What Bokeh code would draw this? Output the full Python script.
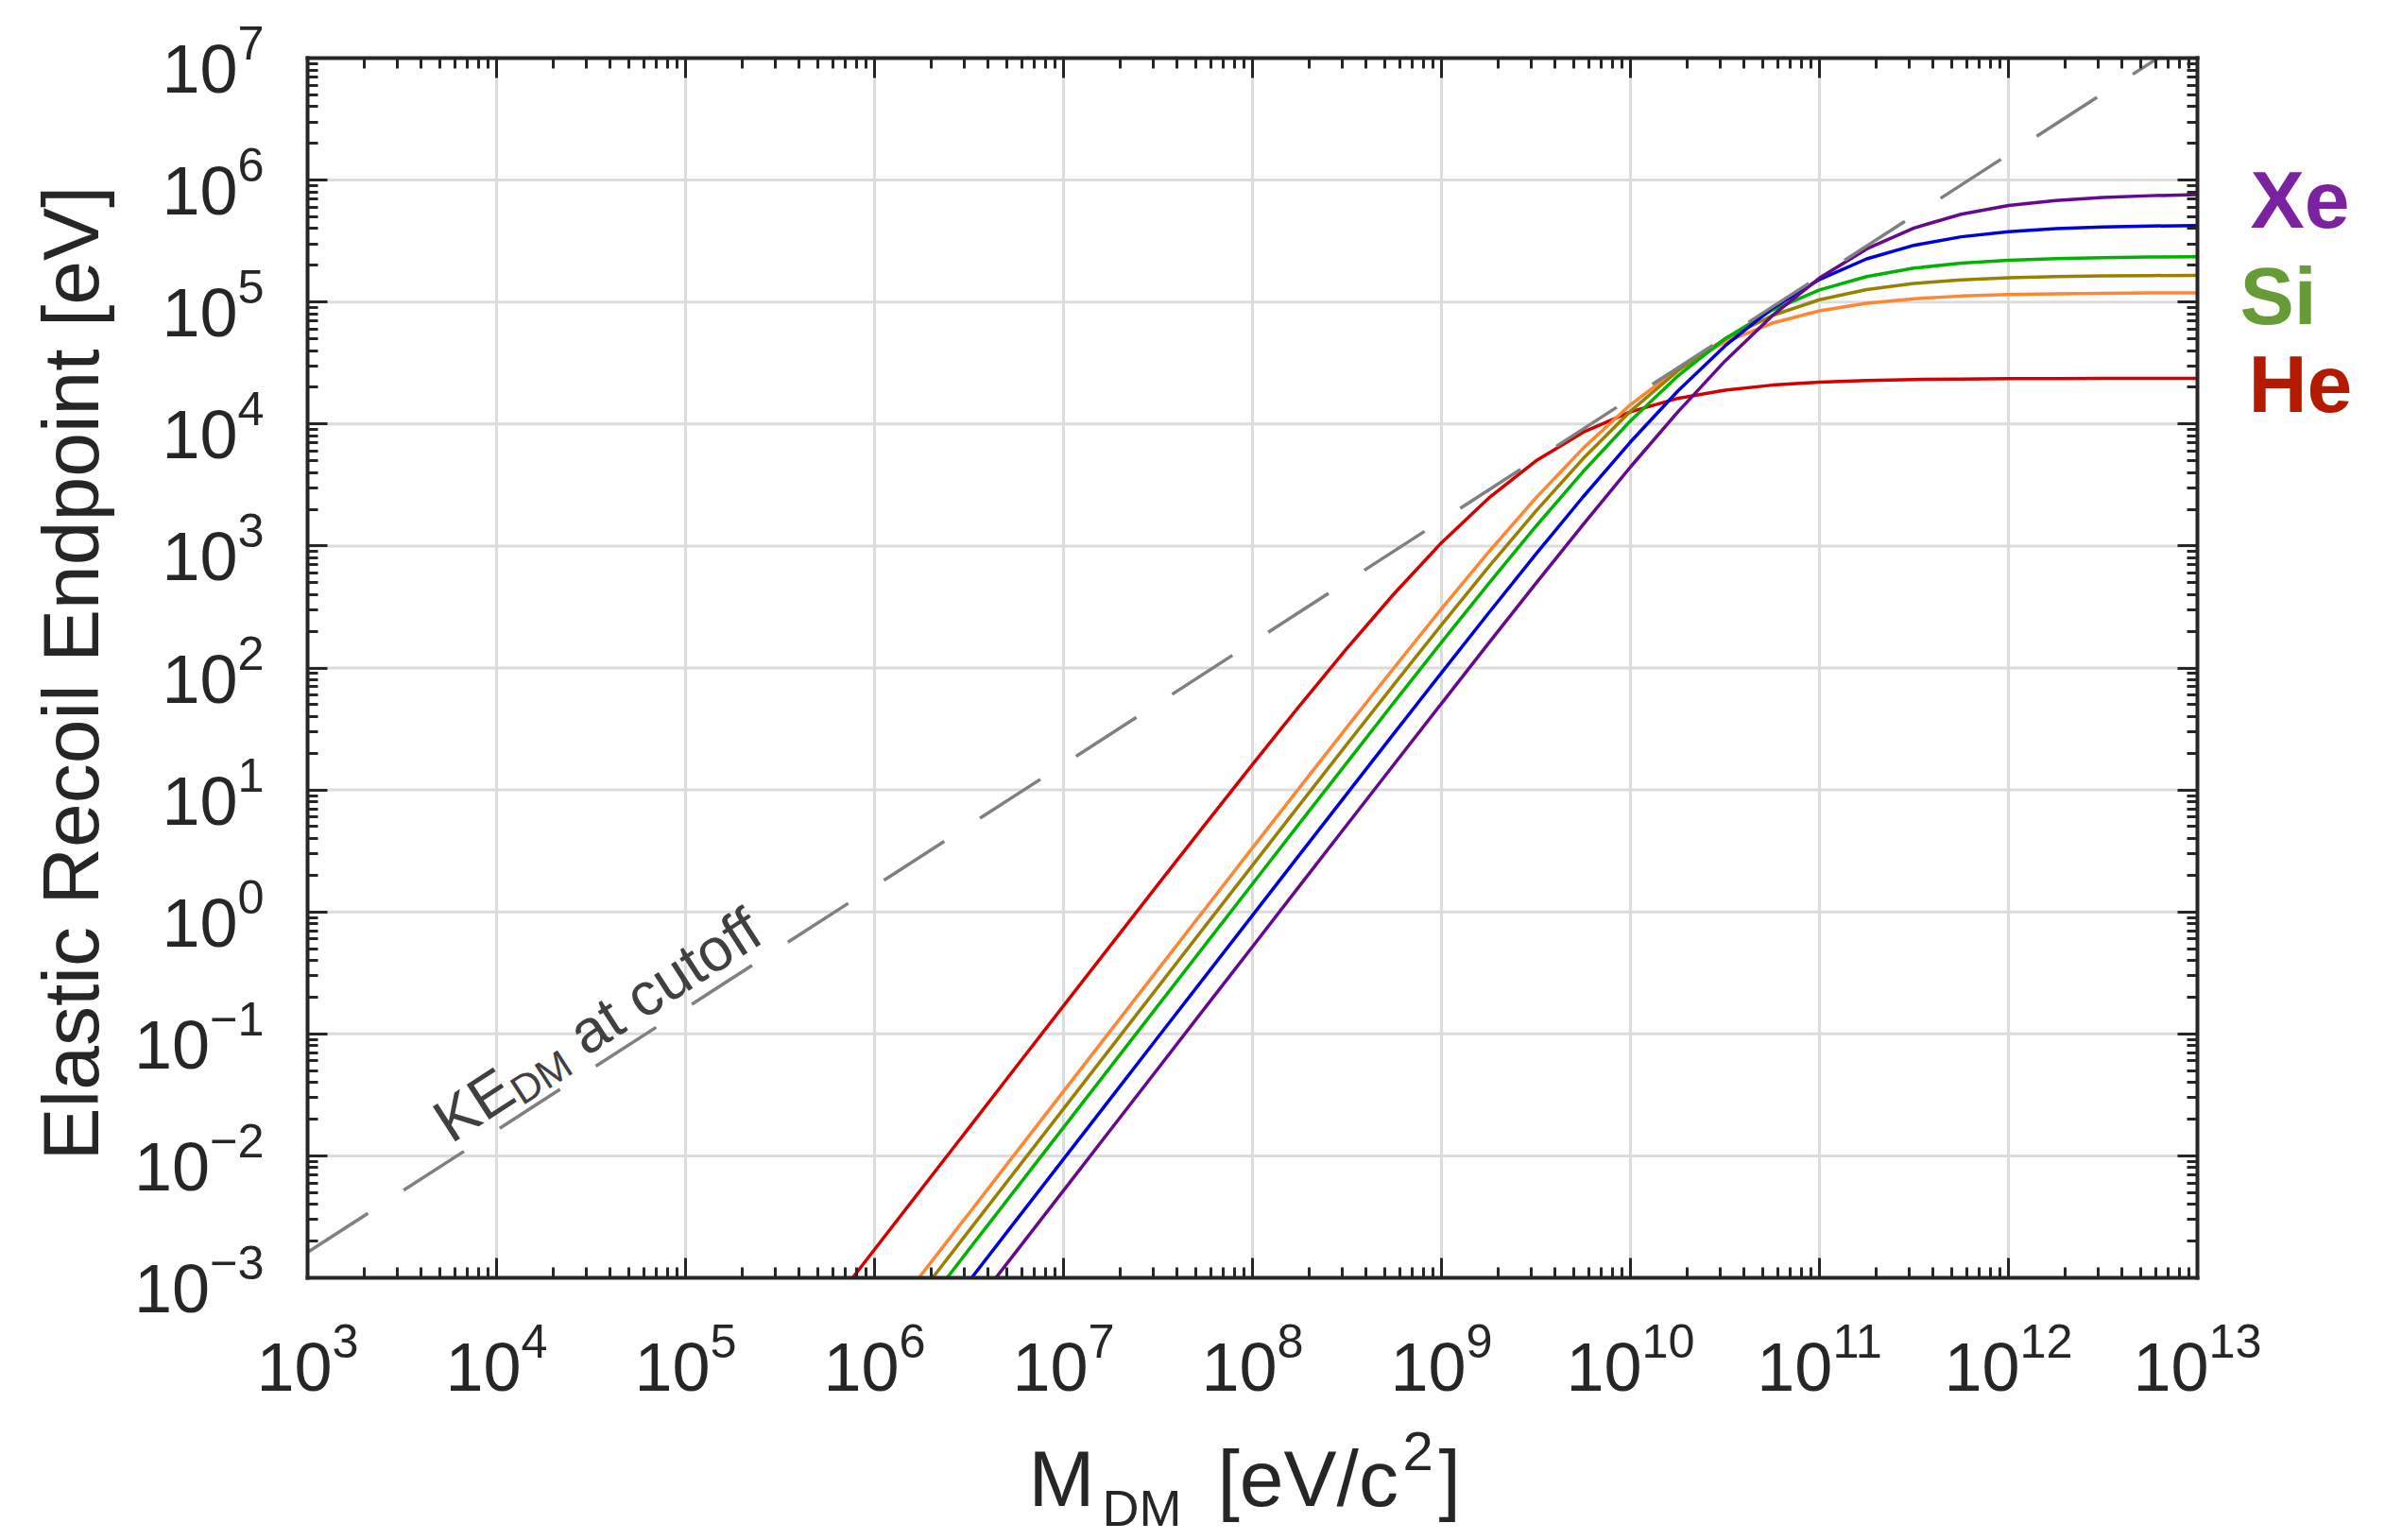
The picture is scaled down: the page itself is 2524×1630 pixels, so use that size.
import math
from bokeh.plotting import figure
from bokeh.models import (LogAxis, FixedTicker, Label, Range1d, Grid,
                          CustomJSTickFormatter, ColumnDataSource)
from bokeh.embed import file_html
from bokeh.resources import INLINE

# ---------------- data ----------------
# DM mass grid, log10(M_DM / eV)
mass_log10 = [5.75, 6.0, 6.25, 6.5, 6.75, 7.0, 7.25, 7.5, 7.75, 8.0, 8.25, 8.5,
              8.75, 9.0, 9.25, 9.5, 9.75, 10.0, 10.25, 10.5, 10.75, 11.0, 11.25,
              11.5, 11.75, 12.0, 12.25, 12.5, 12.75, 13.0]

# elastic recoil endpoint, log10(E / eV), one list per target curve
he_log10 = [-3.268, -2.768, -2.268, -1.769, -1.269, -0.770, -0.272, 0.225, 0.719,
            1.209, 1.692, 2.161, 2.610, 3.026, 3.393, 3.698, 3.933, 4.100, 4.210,
            4.278, 4.319, 4.343, 4.357, 4.365, 4.369, 4.372, 4.373, 4.374, 4.374, 4.375]
ne_log10 = [-3.970, -3.470, -2.970, -2.471, -1.971, -1.471, -0.971, -0.472, 0.027,
            0.525, 1.021, 1.515, 2.004, 2.485, 2.951, 3.395, 3.802, 4.159, 4.451,
            4.672, 4.827, 4.928, 4.990, 5.027, 5.049, 5.061, 5.068, 5.072, 5.075, 5.076]
si_log10 = [-4.114, -3.614, -3.114, -2.614, -2.114, -1.615, -1.115, -0.615, -0.116,
            0.382, 0.880, 1.375, 1.867, 2.353, 2.829, 3.287, 3.717, 4.105, 4.435,
            4.697, 4.889, 5.019, 5.102, 5.152, 5.182, 5.199, 5.209, 5.214, 5.217, 5.219]
ar_log10 = [-4.267, -3.767, -3.267, -2.767, -2.267, -1.767, -1.268, -0.768, -0.269,
            0.230, 0.729, 1.225, 1.720, 2.210, 2.692, 3.162, 3.611, 4.026, 4.393,
            4.699, 4.933, 5.099, 5.209, 5.278, 5.319, 5.342, 5.356, 5.364, 5.369, 5.371]
ge_log10 = [-4.527, -4.027, -3.527, -3.027, -2.527, -2.027, -1.527, -1.027, -0.528,
            -0.028, 0.471, 0.969, 1.466, 1.960, 2.451, 2.934, 3.404, 3.853, 4.270,
            4.640, 4.948, 5.185, 5.354, 5.465, 5.535, 5.577, 5.601, 5.615, 5.623, 5.628]
xe_log10 = [-4.784, -4.284, -3.784, -3.284, -2.784, -2.284, -1.784, -1.284, -0.784,
            -0.285, 0.215, 0.714, 1.212, 1.709, 2.204, 2.694, 3.177, 3.648, 4.098,
            4.516, 4.888, 5.197, 5.436, 5.607, 5.720, 5.791, 5.833, 5.858, 5.872, 5.880]

# where each curve leaves the bottom of the box (E = 1e-3 eV), log10(M_DM)
bottom_crossing_log10 = [5.884, 6.235, 6.307, 6.384, 6.514, 6.642]
first_inside_index = [1, 2, 3, 3, 4, 4]

# dashed "KE_DM at cutoff" line (straight in log-log), from left edge to top edge
cutoff_mass = [1e3, 6.17e12]
cutoff_ke = [1.62e-3, 1e7]

x_ticks = [1e3, 1e4, 1e5, 1e6, 1e7, 1e8, 1e9, 1e10, 1e11, 1e12, 1e13]
y_ticks = [1e-3, 1e-2, 1e-1, 1e0, 1e1, 1e2, 1e3, 1e4, 1e5, 1e6, 1e7]

curve_names = ["He", "Ne", "Si", "Ar", "Ge", "Xe"]
curve_values = [he_log10, ne_log10, si_log10, ar_log10, ge_log10, xe_log10]
curve_colors = ["#d40000", "#ff8633", "#9a8000", "#00b300", "#0000dd", "#650a8f"]

species_labels = ["Xe", "Si", "He"]
species_colors = ["#7b22a0", "#679b38", "#b41a00"]

# ---------------- geometry (page pixels) ----------------
W, H = 2524, 1630
BL, BT = 325, 61              # box left / top
FW, FH = 2000, 1291           # box size
X0, X1 = 1e3, 1e13
Y0, Y1 = 1e-3, 1e7
PX_DEC = FW / 10.0            # px per decade, x
PY_DEC = FH / 10.0            # px per decade, y
AX = "#262626"
FONT = "Liberation Sans"
BASE_SHIFT = 0.34             # label anchor sits this fraction of the font size above the glyph baseline


def page_x(px):
    return 10 ** (3 + (px - BL) / PX_DEC)


def page_y(py):
    return 10 ** (7 - (py - BT) / PY_DEC)


# the frame spans the whole canvas; the box axes sit at fixed locations
p = figure(width=W, height=H,
           x_axis_type="log", y_axis_type="log",
           x_axis_location=None, y_axis_location=None,
           x_range=Range1d(page_x(0), page_x(W)),
           y_range=Range1d(page_y(H), page_y(0)),
           output_backend="svg", toolbar_location=None,
           min_border=0, min_border_left=0, min_border_right=0,
           min_border_top=0, min_border_bottom=0)
p.outline_line_color = None
p.background_fill_color = "white"
p.border_fill_color = "white"
for g in p.select(type=Grid):
    g.visible = False


def minor_of(ticks):
    out = []
    for t in ticks[:-1]:
        out += [t * k for k in range(2, 10)]
    return out


xt = FixedTicker(ticks=x_ticks, minor_ticks=minor_of(x_ticks))
yt = FixedTicker(ticks=y_ticks, minor_ticks=minor_of(y_ticks))

# ---------------- grid lines (inside the box only) ----------------
gx = x_ticks[1:-1]
gy = y_ticks[1:-1]
p.segment(x0=gx, x1=gx, y0=[Y0] * len(gx), y1=[Y1] * len(gx),
          line_color="#dcdcdc", line_width=3)
p.segment(x0=[X0] * len(gy), x1=[X1] * len(gy), y0=gy, y1=gy,
          line_color="#dcdcdc", line_width=3)


def box_axis(side, ticker, loc, bounds, labels, standoff=0):
    ax = LogAxis(ticker=ticker, fixed_location=loc, bounds=bounds)
    ax.axis_line_color = AX
    ax.axis_line_width = 4
    ax.axis_line_cap = "square"
    ax.major_tick_line_color = AX
    ax.minor_tick_line_color = AX
    ax.major_tick_line_width = 3
    ax.minor_tick_line_width = 3
    ax.major_tick_in = 21
    ax.major_tick_out = 0
    ax.minor_tick_in = 11
    ax.minor_tick_out = 0
    ax.major_label_text_font = FONT
    ax.major_label_text_font_size = "72px"
    ax.major_label_text_color = AX
    ax.major_label_standoff = standoff
    if not labels:
        ax.formatter = CustomJSTickFormatter(code="return ''")
    p.add_layout(ax, side)
    return ax


# ---------------- curves ----------------
for name, vals, col, xc, k in zip(curve_names, curve_values, curve_colors,
                                  bottom_crossing_log10, first_inside_index):
    xs = [10 ** xc] + [10 ** v for v in mass_log10[k:]]
    ys = [Y0] + [10 ** v for v in vals[k:]]
    src = ColumnDataSource(dict(x=xs, y=ys))
    p.line("x", "y", source=src, line_color=col, line_width=3.5)

p.line(cutoff_mass, cutoff_ke, line_color="#808080", line_width=3.5,
       line_dash="76 45")

box_axis("below", xt, Y0, (X0, X1), True, 46)
box_axis("left", yt, X0, (Y0, Y1), True, 46)
box_axis("above", xt, Y1, (X0, X1), False)
box_axis("right", yt, X1, (Y0, Y1), False)

# ---------------- "KE_DM at cutoff" annotation ----------------
theta = math.atan(PY_DEC / PX_DEC)
ux, uy = math.cos(theta), -math.sin(theta)      # along baseline (page coords)
nx, ny = math.sin(theta), math.cos(theta)       # perpendicular, downward
s0x, s0y = 465, 1192
pieces = [("KE", 0, 0, 64), ("DM", 85, 14, 43), ("at cutoff", 170, 0, 64)]
for txt, s, d, fs in pieces:
    px = s0x + s * ux + d * nx
    py = s0y + s * uy + d * ny
    p.add_layout(Label(x=page_x(px), y=page_y(py), text=txt, angle=theta,
                       text_font=FONT, text_font_size=f"{fs}px",
                       text_color="#404040", text_align="left",
                       text_baseline="alphabetic"))


def page_label(txt, px, py, size, color=AX, bold=False, angle=0.0, align="left"):
    """place text so that its glyph baseline lands on page point (px, py)"""
    sh = BASE_SHIFT * size
    ax_ = px - sh * math.sin(angle)
    ay_ = py - sh * math.cos(angle)
    p.add_layout(Label(x=page_x(ax_), y=page_y(ay_), text=txt, angle=angle,
                       text_font=FONT, text_font_size=f"{size}px",
                       text_font_style="bold" if bold else "normal",
                       text_color=color, text_align=align,
                       text_baseline="alphabetic"))


# y axis title (rotated; baseline x, centre y)
page_label("Elastic Recoil Endpoint [eV]", 103, 712, 84, angle=math.pi / 2,
           align="center")

# species names to the right of the box (text origin / baseline)
species_pos = [(2381, 240), (2370, 342), (2379, 435)]
for txt, col, (px, py) in zip(species_labels, species_colors, species_pos):
    page_label(txt, px, py, 86, color=col, bold=True)

# x axis title: M_DM [eV/c^2]
xlabel_parts = [("M", 1088, 1593, 84), ("DM", 1166, 1614, 54),
                ("[eV/c", 1288, 1593, 84), ("2", 1484, 1555, 58),
                ("]", 1522, 1593, 84)]
for txt, px, py, fs in xlabel_parts:
    page_label(txt, px, py, fs)

open("out.html", "w").write(file_html(p, INLINE))
